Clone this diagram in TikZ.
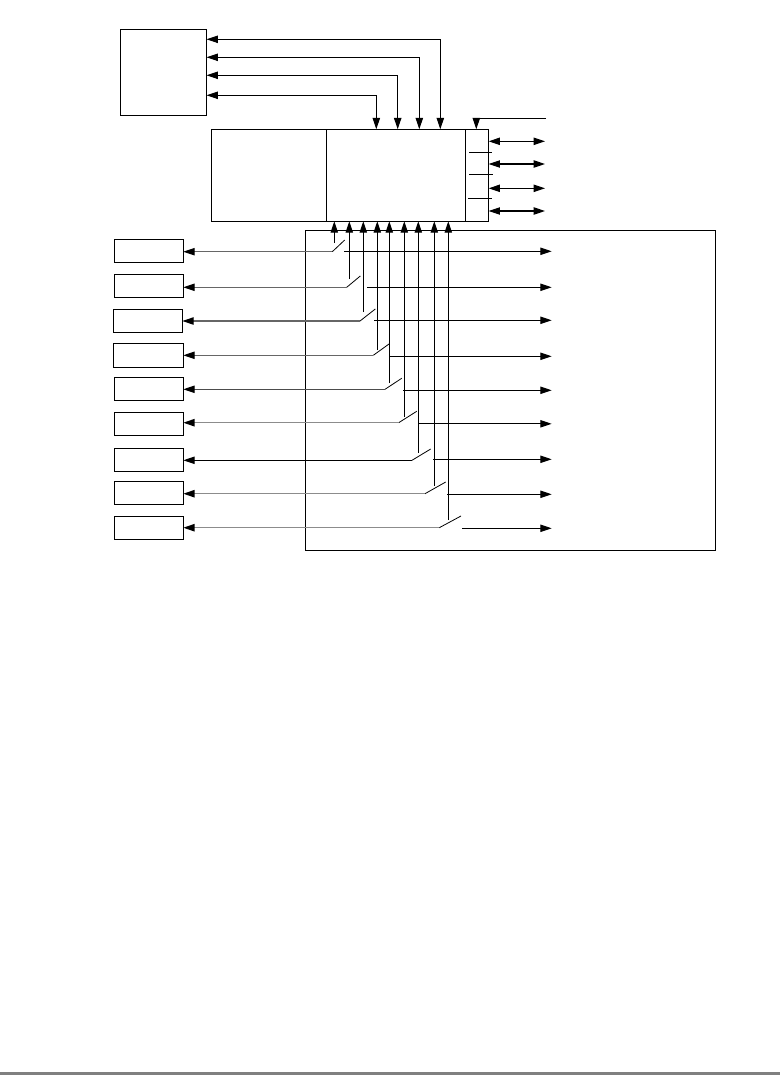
\documentclass[tikz,border=0pt]{standalone}
\usepackage{xcolor}
\usepackage{tikz}
\usetikzlibrary{arrows.meta,positioning}

\begin{document}
\begin{tikzpicture}[
    x=0.75pt, y=-0.75pt,
    box/.style={draw, line width=0.8pt, inner sep=0pt, outer sep=0pt},
    port/.style={box, minimum width=51.75pt, minimum height=17.25pt},
    wire/.style={line width=0.8pt},
    faint/.style={line width=1.1pt, draw=black!45},
    lever/.style={line width=0.6pt},
    arrow/.style={-{Triangle[length=8.5pt,width=5.5pt,black]}, wire},
    biarrow/.style={{Triangle[length=8.5pt,width=5.5pt,black]}-{Triangle[length=8.5pt,width=5.5pt,black]}, wire}
  ]
    \useasboundingbox (0,0) rectangle (780,1075);
    \fill[black!50] (0,1072) rectangle (780,1075);

    % upper blocks
    \node[box, minimum width=64.5pt, minimum height=64.5pt] (mem) at (163.5,72.3) {};
    \node[box, minimum width=86.25pt, minimum height=69pt] (core) at (268.8,175.3) {};
    \node[box, minimum width=104.5pt, minimum height=69pt, right=0pt of core] (ctrl) {};
    \node[box, minimum width=17.25pt, minimum height=69pt, right=0pt of ctrl] (pins) {};
    \node[box, minimum width=307pt, minimum height=240pt] (bus) at (510.5,390.3) {};

    % left column
    \node[port] (p1) at (148.8,250.8) {};
    \node[port] (p2) at (148.8,285.8) {};
    \node[port] (p3) at (147.8,320.8) {};
    \node[port, minimum width=52.5pt, minimum height=17.8pt] (p4) at (148.3,355.2) {};
    \node[port] (p5) at (148.8,388.8) {};
    \node[port] (p6) at (148.8,423.8) {};
    \node[port] (p7) at (148.8,459.8) {};
    \node[port] (p8) at (148.8,492.8) {};
    \node[port] (p9) at (148.8,527.8) {};

    % top bus
    \coordinate (t1) at (440.3,39.3);
    \coordinate (t2) at (419.3,57.3);
    \coordinate (t3) at (397.7,75.3);
    \coordinate (t4) at (376.3,95.3);
    \draw[biarrow] (mem.east |- t1) -- (t1) -- (t1 |- ctrl.north);
    \draw[biarrow] (mem.east |- t2) -- (t2) -- (t2 |- ctrl.north);
    \draw[biarrow] (mem.east |- t3) -- (t3) -- (t3 |- ctrl.north);
    \draw[biarrow] (mem.east |- t4) -- (t4) -- (t4 |- ctrl.north);

    % pins on the right
    \coordinate (clk) at (546,118.7);
    \coordinate (clkb) at (476.3,118.7);
    \coordinate (r1) at (545,141.3);
    \coordinate (r2) at (545,164);
    \coordinate (r3) at (545,188.3);
    \coordinate (r4) at (545,211);
    \draw[arrow] (clk) -- (clkb) -- (clkb |- pins.north);
    \draw[biarrow] (pins.east |- r1) -- (r1);
    \draw[biarrow] (pins.east |- r2) -- (r2);
    \draw[biarrow] (pins.east |- r3) -- (r3);
    \draw[biarrow] (pins.east |- r4) -- (r4);
    \coordinate (k1a) at (469.3,152.3);
    \coordinate (k1b) at (492,152.3);
    \coordinate (k2a) at (469.3,174.3);
    \coordinate (k2b) at (493,174.3);
    \coordinate (k3a) at (468,198.3);
    \coordinate (k3b) at (492,198.3);
    \draw[wire] (k1a) -- (k1b);
    \draw[wire] (k2a) -- (k2b);
    \draw[wire] (k3a) -- (k3b);

    % switch roots, switch tips
    \coordinate (a1) at (332.3,251.7);
    \coordinate (b1) at (344.7,240);
    \coordinate (a2) at (346.7,287.3);
    \coordinate (b2) at (360.3,276);
    \coordinate (a3) at (360,321);
    \coordinate (b3) at (375.3,309);
    \coordinate (a4) at (373.3,355.3);
    \coordinate (b4) at (389,344);
    \coordinate (a5) at (385,389.3);
    \coordinate (b5) at (401.7,378.3);
    \coordinate (a6) at (398.7,422.7);
    \coordinate (b6) at (416.7,411.3);
    \coordinate (a7) at (412,460.3);
    \coordinate (b7) at (430.7,449);
    \coordinate (a8) at (425,493.7);
    \coordinate (b8) at (445.7,482);
    \coordinate (a9) at (439.3,527.7);
    \coordinate (b9) at (461,516);
    \draw[lever] (a1) -- (b1);
    \draw[lever] (a2) -- (b2);
    \draw[lever] (a3) -- (b3);
    \draw[lever] (a4) -- (b4);
    \draw[lever] (a5) -- (b5);
    \draw[lever] (a6) -- (b6);
    \draw[lever] (a7) -- (b7);
    \draw[lever] (a8) -- (b8);
    \draw[lever] (a9) -- (b9);

    % switch roots back to the left column
    \draw[arrow, draw=black!60] (a1) -- (a1 -| p1.east);
    \draw[arrow, draw=black!60] (a2) -- (a2 -| p2.east);
    \draw[arrow, draw=black!60] (a3) -- (a3 -| p3.east);
    \draw[arrow, draw=black!60] (a4) -- (a4 -| p4.east);
    \draw[arrow, draw=black!70] (a5) -- (a5 -| p5.east);
    \draw[arrow, faint] (a6) -- (a6 -| p6.east);
    \draw[arrow] (a7) -- (a7 -| p7.east);
    \draw[arrow, faint] (a8) -- (a8 -| p8.east);
    \draw[arrow, faint] (a9) -- (a9 -| p9.east);

    % risers into the middle block
    \coordinate (v1) at (334.3,243);
    \coordinate (v2) at (349.3,279);
    \coordinate (v3) at (363.3,312);
    \coordinate (v4) at (377.3,350);
    \coordinate (v5) at (389.3,383);
    \coordinate (v6) at (404.3,416.7);
    \coordinate (v7) at (418.3,452.7);
    \coordinate (v8) at (434.3,485.7);
    \coordinate (v9) at (448.3,520);
    \draw[arrow] (v1) -- (v1 |- ctrl.south);
    \draw[arrow] (v2) -- (v2 |- ctrl.south);
    \draw[arrow] (v3) -- (v3 |- ctrl.south);
    \draw[arrow] (v4) -- (v4 |- ctrl.south);
    \draw[arrow] (v5) -- (v5 |- ctrl.south);
    \draw[arrow] (v6) -- (v6 |- ctrl.south);
    \draw[arrow] (v7) -- (v7 |- ctrl.south);
    \draw[arrow] (v8) -- (v8 |- ctrl.south);
    \draw[arrow] (v9) -- (v9 |- ctrl.south);

    % outputs
    \coordinate (out) at (551.7,0);
    \coordinate (c1) at (344,251.3);
    \coordinate (c2) at (367,287.3);
    \coordinate (c3) at (374,320.3);
    \coordinate (c4) at (389.3,356.3);
    \coordinate (c5) at (403.3,390.3);
    \coordinate (c6) at (419,423.8);
    \coordinate (c7) at (433.3,459.3);
    \coordinate (c8) at (447.3,494.3);
    \coordinate (c9) at (462,528.3);
    \draw[arrow] (c1) -- (c1 -| out);
    \draw[arrow] (c2) -- (c2 -| out);
    \draw[arrow] (c3) -- (c3 -| out);
    \draw[arrow] (c4) -- (c4 -| out);
    \draw[arrow] (c5) -- (c5 -| out);
    \draw[arrow] (c6) -- (c6 -| out);
    \draw[arrow] (c7) -- (c7 -| out);
    \draw[arrow] (c8) -- (c8 -| out);
    \draw[arrow] (c9) -- (c9 -| out);
  \end{tikzpicture}
\end{document}
